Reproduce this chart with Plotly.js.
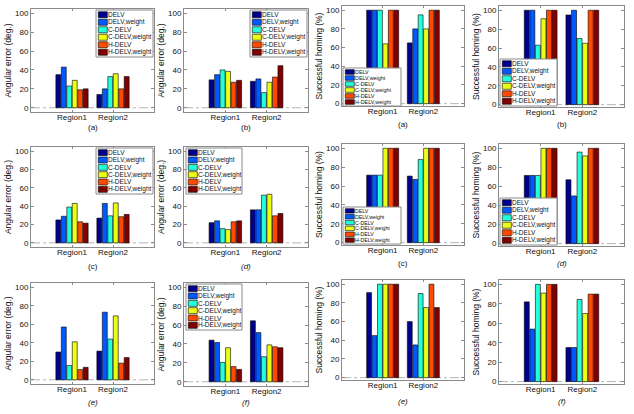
<!DOCTYPE html>
<html><head><meta charset="utf-8">
<script src="https://cdn.plot.ly/plotly-3.0.1.min.js"></script>
<style>html,body{margin:0;padding:0;background:#fff;}#chart{width:634px;height:414px;}</style>
</head><body><div id="chart"></div>
<script>
// ---------------- DATA ----------------
const regions = ['Region1', 'Region2'];
const methods = ['DELV', 'DELV,weight', 'C-DELV', 'C-DELV,weight', 'H-DELV', 'H-DELV,weight'];
const captions = ['(a)', '(b)', '(c)', '(d)', '(e)', '(f)'];
const angTitle = 'Angular error (deg.)';
const homTitle = 'Successful homing (%)';
// rows: Region1, Region2 ; columns in the order of `methods`
const angularError_a = [[35, 43, 23, 29, 19, 20], [14, 20, 33, 36, 20, 33]];
const angularError_b = [[29.5, 35, 40, 38.5, 27, 29], [28, 30.5, 16, 27, 32.5, 44.5]];
const angularError_c = [[25, 29, 39, 43, 23, 21.5], [27, 43, 29.5, 43.5, 28.5, 31]];
const angularError_d = [[22, 24, 15.5, 14.5, 23, 24], [36, 36, 52, 53, 29.5, 32]];
const angularError_e = [[30, 57, 15.5, 41, 11, 13.5], [31, 73, 44, 69, 18, 24]];
const angularError_f = [[44, 41.5, 20.5, 36, 16, 13], [64.5, 52, 26.5, 39, 37, 36]];
const homing_a = [[100, 100, 100, 64, 100, 100], [65, 80, 95, 80, 100, 100]];
const homing_b = [[100, 100, 63, 91, 100, 100], [95, 100, 70, 65, 100, 100]];
const homing_c = [[71.5, 71.5, 71.5, 100, 100, 100], [70.5, 67, 88, 100, 100, 100]];
const homing_d = [[71.5, 71.5, 71.5, 100, 100, 100], [67, 50, 96, 92, 100, 100]];
const homing_e = [[91, 45, 100, 100, 100, 100], [60, 35, 90, 75, 100, 75]];
const homing_f = [[82, 54, 100, 91, 100, 100], [35, 35, 84.5, 70, 90, 90]];

// ---------------- STYLE / LAYOUT ----------------
const W = 634, H = 414;
const colors = ['#00008F', '#0059FF', '#24FFDB', '#EBFF14', '#FF4A00', '#800000'];
const FONT = '"Liberation Sans", Arial, Helvetica, sans-serif';
const frame = '#8a8a8a';
// box: [left, right, top, bottom] px ; cy caption centre px ; leg legend box px
const panels = [
  {data: angularError_a, kind: 'ang', cap: 0, box: [31, 154, 9, 112], cy: 127, leg: [96, 153, 10, 57]},
  {data: angularError_b, kind: 'ang', cap: 1, box: [184, 308, 9, 112], cy: 127, leg: [250, 307, 10, 57]},
  {data: homing_a, kind: 'hom', cap: 0, box: [342, 464, 6, 106], cy: 124, leg: [343, 401, 68, 106]},
  {data: homing_b, kind: 'hom', cap: 1, box: [499, 624, 6, 107], cy: 124, leg: [500, 557, 59, 106]},
  {data: angularError_c, kind: 'ang', cap: 2, box: [31, 154, 147, 247], cy: 266, leg: [96, 153, 148, 194]},
  {data: angularError_d, kind: 'ang', cap: 3, box: [184, 308, 147, 247], cy: 266, leg: [186, 242, 148, 194]},
  {data: homing_c, kind: 'hom', cap: 2, box: [342, 464, 144, 245], cy: 263, leg: [343, 401, 207, 244]},
  {data: homing_d, kind: 'hom', cap: 3, box: [499, 624, 144, 246], cy: 263, leg: [500, 557, 198, 245]},
  {data: angularError_e, kind: 'ang', cap: 4, box: [31, 154, 283, 384], cy: 402, leg: null},
  {data: angularError_f, kind: 'ang', cap: 5, box: [184, 308, 283, 386], cy: 402, leg: [186, 242, 284, 330]},
  {data: homing_e, kind: 'hom', cap: 4, box: [342, 464, 280, 380], cy: 401, leg: null},
  {data: homing_f, kind: 'hom', cap: 5, box: [499, 624, 280, 384], cy: 401, leg: null}
];

const px = v => v / W;
const py = v => 1 - v / H;

const traces = [], shapes = [], annotations = [];
const layout = {
  width: W, height: H,
  margin: {l: 0, r: 0, t: 0, b: 0, pad: 0},
  paper_bgcolor: '#fff', plot_bgcolor: '#fff',
  barmode: 'group', bargap: 0.2, bargroupgap: 0.1,
  showlegend: false,
  font: {family: FONT, color: '#111', size: 8}
};

panels.forEach((p, i) => {
  const n = i === 0 ? '' : String(i + 1);
  const xa = 'x' + n, ya = 'y' + n;
  const [L, R, T, B] = p.box;
  layout['xaxis' + n] = {
    domain: [px(L), px(R)], anchor: ya, type: 'category', range: [-1, 2],
    showline: true, linecolor: frame, linewidth: 1, mirror: 'ticks',
    ticks: 'inside', ticklen: 2, tickcolor: frame, showgrid: false, zeroline: false,
    ticklabelstandoff: -3,
    tickfont: {size: 8, color: '#111', family: FONT}, fixedrange: true
  };
  layout['yaxis' + n] = {
    domain: [py(B), py(T)], anchor: xa,
    range: p.kind === 'ang' ? [-4.5, 104.5] : [-2.5, 104.5],
    tickvals: [0, 20, 40, 60, 80, 100],
    showline: true, linecolor: frame, linewidth: 1, mirror: 'ticks',
    ticks: 'inside', ticklen: 3, tickcolor: frame, showgrid: false, zeroline: false,
    tickfont: {size: 8, color: '#111', family: FONT}, fixedrange: true,
    title: {text: p.kind === 'ang' ? angTitle : homTitle, font: {size: 8.5, color: '#111', family: FONT}, standoff: 2}
  };
  methods.forEach((m, k) => {
    traces.push({
      type: 'bar', name: m, x: regions, y: p.data.map(r => r[k]),
      xaxis: xa, yaxis: ya,
      marker: {color: colors[k], line: {color: '#000', width: 0.6}},
      hoverinfo: 'skip', showlegend: false
    });
  });
  // dashed baseline at y=0
  shapes.push({type: 'line', xref: xa + ' domain', yref: ya, x0: 0, x1: 1, y0: 0, y1: 0,
    line: {color: '#b5b5b5', width: 1, dash: 'dashdot'}, layer: 'below'});
  // caption
  annotations.push({
    text: p.cap >= 3 ? '<i>' + captions[p.cap] + '</i>' : captions[p.cap],
    xref: 'paper', yref: 'paper', x: px((L + R) / 2), y: py(p.cy),
    xanchor: 'center', yanchor: 'middle', showarrow: false,
    font: {size: 8, family: FONT, color: '#111'}
  });
  // legend (drawn manually for compact MATLAB-like layout)
  if (p.leg) {
    const [lx0, lx1, ly0, ly1] = p.leg;
    shapes.push({type: 'rect', xref: 'paper', yref: 'paper', x0: px(lx0), x1: px(lx1), y0: py(ly1), y1: py(ly0),
      line: {color: frame, width: 1}, fillcolor: '#fff', layer: 'above'});
    const step = (ly1 - ly0 - 2) / methods.length;
    const sh = Math.min(6, step - 1.4);
    const fs = Math.min(6.5, step - 0.6);
    methods.forEach((m, k) => {
      const cy = ly0 + 1 + step * (k + 0.5);
      shapes.push({type: 'rect', xref: 'paper', yref: 'paper',
        x0: px(lx0 + 2.3), x1: px(lx0 + 11.3), y0: py(cy + sh / 2), y1: py(cy - sh / 2),
        line: {color: '#000', width: 0.6}, fillcolor: colors[k], layer: 'above'});
      annotations.push({
        text: m, xref: 'paper', yref: 'paper', x: px(lx0 + 10.5), y: py(cy),
        xanchor: 'left', yanchor: 'middle', showarrow: false, borderpad: 0,
        font: {size: fs, family: FONT, color: '#111'}
      });
    });
  }
});
layout.shapes = shapes;
layout.annotations = annotations;

Plotly.newPlot('chart', traces, layout, {staticPlot: true, displayModeBar: false});
</script>
</body></html>
